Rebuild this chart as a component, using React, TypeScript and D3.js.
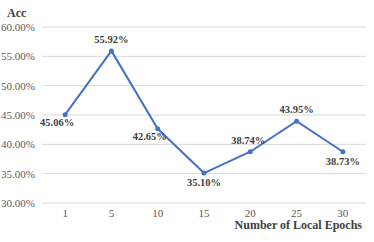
import React from 'react';
import * as d3 from 'd3';

// epochs on the x axis and accuracy (%) values
const epochs: string[] = ['1', '5', '10', '15', '20', '25', '30'];
const acc: number[] = [45.06, 55.92, 42.65, 35.1, 38.74, 43.95, 38.73];
const yTicks: number[] = [30, 35, 40, 45, 50, 55, 60];
// label placement: 'b' below, 'a' above, 'bl' below-left, 'al' above-left
const labelPos: string[] = ['bl', 'a', 'bl', 'b', 'al', 'a', 'b'];

const W = 374;
const H = 242;
const margin = { top: 27, right: 8, bottom: 39, left: 42 };

const App: React.FC = () => {
  const x = d3.scaleBand<string>()
    .domain(epochs)
    .range([margin.left, W - margin.right]);

  const y = d3.scaleLinear()
    .domain([30, 60])
    .range([H - margin.bottom, margin.top]);

  const line = d3.line<number>()
    .x((_, i) => (x(epochs[i]) as number) + x.bandwidth() / 2)
    .y(d => y(d));

  const font = '"Liberation Serif", "Times New Roman", serif';

  return (
    <svg width={W} height={H} style={{ position: 'absolute', left: 0, top: 0 }}>
      <rect width={W} height={H} fill="#fff" />
      {yTicks.map(t => (
        <g key={t}>
          <line x1={margin.left} x2={W - margin.right} y1={y(t)} y2={y(t)} stroke="#d9d9d9" strokeWidth={1} />
          <text x={35} y={y(t)} dy="0.35em" textAnchor="end" fontFamily={font} fontSize={11} fill="#595959">
            {t.toFixed(2)}%
          </text>
        </g>
      ))}
      {epochs.map(e => (
        <text key={e} x={(x(e) as number) + x.bandwidth() / 2} y={y(30) + 14} textAnchor="middle"
          fontFamily={font} fontSize={11} fill="#595959">{e}</text>
      ))}
      <path d={line(acc) || ''} fill="none" stroke="#4472c4" strokeWidth={2} />
      {acc.map((v, i) => {
        const cx = (x(epochs[i]) as number) + x.bandwidth() / 2;
        const cy = y(v);
        const p = labelPos[i];
        let lx = cx;
        let ly = cy + 13;
        if (p === 'a') ly = cy - 8;
        if (p === 'bl') { lx = cx - 8; ly = cy + 11; }
        if (p === 'al') { lx = cx - 2; ly = cy - 8; }
        return (
          <g key={i}>
            <circle cx={cx} cy={cy} r={2.5} fill="#4472c4" />
            <text x={lx} y={ly} textAnchor="middle" fontFamily={font} fontSize={10.5}
              fontWeight="bold" fill="#404040">{v.toFixed(2)}%</text>
          </g>
        );
      })}
      <text x={7} y={17} fontFamily={font} fontSize={12} fontWeight="bold" fill="#404040">Acc</text>
      <text x={362} y={229} textAnchor="end" fontFamily={font} fontSize={12} fontWeight="bold" fill="#404040">
        Number of Local Epochs
      </text>
    </svg>
  );
};

export default App;
